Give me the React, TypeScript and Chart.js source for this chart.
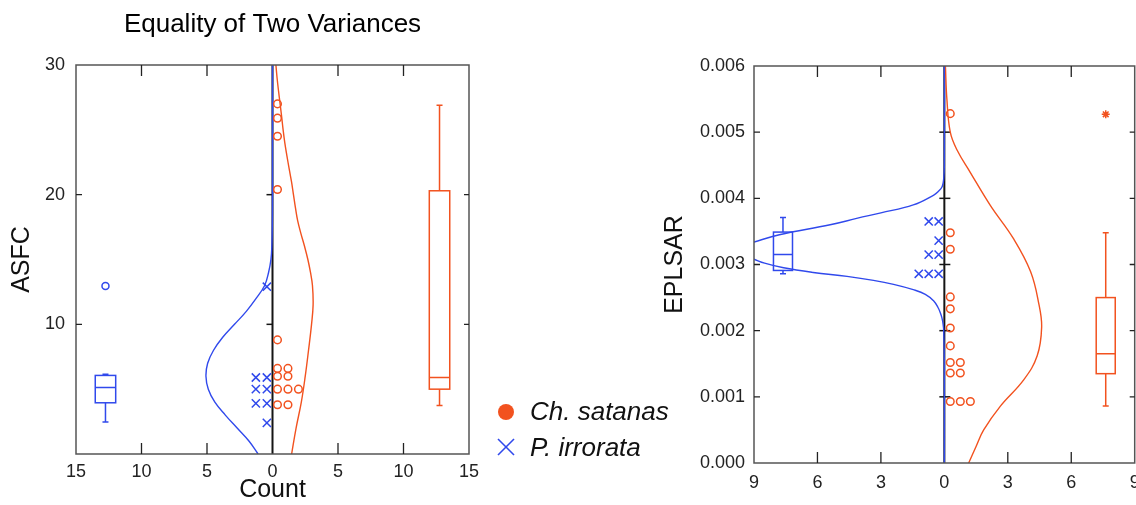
import React, { useEffect, useRef } from 'react';
import { Chart, registerables } from 'chart.js';

Chart.register(...registerables);

const ORANGE = '#f2521f';
const BLUE = '#3049ec';
const FONT = "'Liberation Sans', Arial, Helvetica, sans-serif";

// ---------- ASFC panel (left) ----------
const asfcSatanas = [27.0, 25.9, 24.5, 20.4, 8.8, 6.6, 6.6, 6.0, 6.0, 5.0, 5.0, 5.0, 3.8, 3.8];
const asfcIrrorata = [12.9, 5.9, 5.9, 5.0, 5.0, 3.9, 3.9, 2.4];
// [low whisker, q1, median, q3, high whisker]
const asfcSatanasBox = [3.75, 5.0, 5.9, 20.3, 26.9];
const asfcIrrorataBox = [2.46, 3.95, 5.13, 6.06, 6.16];
const asfcIrrorataOutliers = [12.96];
const asfcSatanasCurveY = [0, 2, 4, 6, 8, 10, 11.5, 13, 14, 15, 16, 17, 18, 19, 20, 21, 22, 23, 24, 25, 26, 27, 28, 29, 30];
const asfcSatanasCurveX = [1.46, 1.8, 2.2, 2.5, 2.75, 2.98, 3.1, 3.05, 2.9, 2.7, 2.45, 2.17, 1.92, 1.75, 1.6, 1.45, 1.27, 1.1, 0.94, 0.81, 0.7, 0.58, 0.46, 0.35, 0.26];
const asfcIrrorataCurveY = [0, 1, 2, 3, 4, 5, 6, 7, 8, 9, 10, 11, 12, 13, 14, 15, 16, 18, 20, 25, 30];
const asfcIrrorataCurveX = [-1.1, -1.8, -2.7, -3.6, -4.4, -4.9, -5.08, -4.95, -4.5, -3.8, -2.9, -2.0, -1.25, -0.6, -0.3, -0.12, -0.05, -0.01, 0, 0, 0];

// ---------- EPLSAR panel (right) ----------
const eplsarSatanas = [0.00528, 0.00348, 0.00323, 0.00251, 0.00233, 0.00204, 0.00177, 0.00152, 0.00152, 0.00136, 0.00136, 0.00093, 0.00093, 0.00093];
const eplsarIrrorata = [0.00365, 0.00365, 0.00336, 0.00315, 0.00315, 0.00286, 0.00286, 0.00286];
const eplsarSatanasBox = [0.00086, 0.00135, 0.00165, 0.0025, 0.00348];
const eplsarIrrorataBox = [0.00286, 0.00291, 0.00315, 0.00349, 0.00371];
const eplsarSatanasOutliers = [0.00527];
const eplsarSatanasCurveY = [0, 0.00025, 0.0005, 0.00086, 0.00126, 0.00162, 0.00205, 0.0024, 0.00289, 0.00339, 0.00389, 0.00439, 0.00473, 0.005, 0.0055, 0.006];
const eplsarSatanasCurveX = [1.15, 1.5, 1.86, 2.65, 3.76, 4.39, 4.6, 4.47, 4.08, 3.27, 2.18, 1.23, 0.6, 0.28, 0.12, 0.05];
const eplsarIrrorataCurveY = [0, 0.0015, 0.002, 0.0021, 0.0022, 0.00228, 0.00235, 0.00245, 0.00255, 0.00262, 0.0027, 0.00276, 0.00282, 0.00288, 0.00295, 0.00302, 0.00308, 0.00315, 0.00321, 0.00328, 0.00334, 0.00345, 0.0036, 0.0037, 0.00378, 0.0039, 0.00405, 0.0041, 0.00418, 0.0043, 0.0045, 0.006];
const eplsarIrrorataCurveX = [0, 0, -0.03, -0.06, -0.12, -0.2, -0.3, -0.5, -0.9, -1.47, -2.4, -3.35, -4.6, -6.2, -7.6, -8.5, -9.0, -9.6, -9.8, -9.6, -9.0, -7.8, -5.4, -4.1, -3.0, -1.47, -0.5, -0.3, -0.1, -0.03, 0, 0];

// box-plot column positions (in Count units)
const ASFC_BOX_POS = 12.75;
const EPLSAR_BOX_POS = 7.63;

function stackDots(values: number[], first: number, step: number) {
  const counts = new Map<number, number>();
  return values.map((v) => {
    const k = counts.get(v) || 0;
    counts.set(v, k + 1);
    return { x: first + k * step, y: v };
  });
}

function pairs(xs: number[], ys: number[]) {
  return xs.map((x, i) => ({ x, y: ys[i] }));
}

function curveDs(xs: number[], ys: number[], color: string) {
  return {
    data: pairs(xs, ys),
    showLine: true,
    borderColor: color,
    borderWidth: 1.4,
    pointRadius: 0,
    tension: 0.4,
    fill: false,
  };
}

type BoxSpec = { pos: number; stats: number[]; color: string; halfWidth: number };

function framePlugin(o: {
  xTick: number; yTickL: number; yTickR: number; midL: number; midR: number; boxes: BoxSpec[];
}) {
  const isEdge = (v: number, s: any) => {
    const eps = (s.max - s.min) * 1e-6;
    return Math.abs(v - s.min) < eps || Math.abs(v - s.max) < eps;
  };
  return {
    id: 'frame',
    beforeDatasetsDraw(chart: any) {
      const { ctx, chartArea: a } = chart;
      const xs = chart.scales.x, ys = chart.scales.y;
      const x0 = xs.getPixelForValue(0);
      ctx.save();
      ctx.strokeStyle = '#151515';
      ctx.lineWidth = 2;
      ctx.beginPath();
      ctx.moveTo(x0, a.top);
      ctx.lineTo(x0, a.bottom);
      ctx.stroke();
      ctx.lineWidth = 1.5;
      ys.ticks.forEach((t: any) => {
        if (isEdge(t.value, ys)) return;
        const p = ys.getPixelForValue(t.value);
        ctx.beginPath();
        ctx.moveTo(x0 - o.midL, p);
        ctx.lineTo(x0 + o.midR, p);
        ctx.stroke();
      });
      ctx.restore();
    },
    afterDatasetsDraw(chart: any) {
      const { ctx, chartArea: a } = chart;
      const xs = chart.scales.x, ys = chart.scales.y;
      ctx.save();
      o.boxes.forEach((b) => {
        const [lo, q1, med, q3, hi] = b.stats;
        const cx = xs.getPixelForValue(b.pos);
        const l = xs.getPixelForValue(b.pos - b.halfWidth);
        const r = xs.getPixelForValue(b.pos + b.halfWidth);
        const cap = 3;
        ctx.strokeStyle = b.color;
        ctx.lineWidth = 1.5;
        ctx.strokeRect(l, ys.getPixelForValue(q3), r - l, ys.getPixelForValue(q1) - ys.getPixelForValue(q3));
        ctx.beginPath();
        ctx.moveTo(l, ys.getPixelForValue(med));
        ctx.lineTo(r, ys.getPixelForValue(med));
        ctx.moveTo(cx, ys.getPixelForValue(q1));
        ctx.lineTo(cx, ys.getPixelForValue(lo));
        ctx.moveTo(cx, ys.getPixelForValue(q3));
        ctx.lineTo(cx, ys.getPixelForValue(hi));
        ctx.moveTo(cx - cap, ys.getPixelForValue(lo));
        ctx.lineTo(cx + cap, ys.getPixelForValue(lo));
        ctx.moveTo(cx - cap, ys.getPixelForValue(hi));
        ctx.lineTo(cx + cap, ys.getPixelForValue(hi));
        ctx.stroke();
      });
      ctx.strokeStyle = '#555';
      ctx.lineWidth = 1.5;
      ctx.strokeRect(a.left, a.top, a.right - a.left, a.bottom - a.top);
      ctx.lineWidth = 1.3;
      ctx.strokeStyle = '#222';
      xs.ticks.forEach((t: any) => {
        if (isEdge(t.value, xs) || Math.abs(t.value) < 1e-9) return;
        const p = xs.getPixelForValue(t.value);
        ctx.beginPath();
        ctx.moveTo(p, a.bottom);
        ctx.lineTo(p, a.bottom - o.xTick);
        ctx.moveTo(p, a.top);
        ctx.lineTo(p, a.top + o.xTick);
        ctx.stroke();
      });
      ys.ticks.forEach((t: any) => {
        if (isEdge(t.value, ys)) return;
        const p = ys.getPixelForValue(t.value);
        ctx.beginPath();
        ctx.moveTo(a.left, p);
        ctx.lineTo(a.left + o.yTickL, p);
        ctx.moveTo(a.right, p);
        ctx.lineTo(a.right - o.yTickR, p);
        ctx.stroke();
      });
      ctx.restore();
    },
  };
}

const tickFont = { size: 18, family: FONT };
const titleFont = { size: 25, family: FONT };

function leftConfig(): any {
  return {
    type: 'scatter',
    data: {
      datasets: [
        { data: stackDots(asfcIrrorata, -0.43, -0.84), pointStyle: 'crossRot', pointRadius: 5.8, borderColor: BLUE, borderWidth: 1.5, backgroundColor: BLUE },
        { data: stackDots(asfcSatanas, 0.38, 0.8), pointStyle: 'circle', pointRadius: 3.8, borderColor: ORANGE, borderWidth: 1.5, backgroundColor: 'rgba(0,0,0,0)' },
        { data: asfcIrrorataOutliers.map((y) => ({ x: -ASFC_BOX_POS, y })), pointStyle: 'circle', pointRadius: 3.5, borderColor: BLUE, borderWidth: 1.5, backgroundColor: 'rgba(0,0,0,0)' },
        curveDs(asfcIrrorataCurveX, asfcIrrorataCurveY, BLUE),
        curveDs(asfcSatanasCurveX, asfcSatanasCurveY, ORANGE),
      ],
    },
    options: {
      responsive: false,
      animation: false,
      events: [],
      layout: { padding: { top: 0, right: 11, left: 0, bottom: 0 } },
      plugins: {
        legend: { display: false },
        tooltip: { enabled: false },
        title: {
          display: true,
          text: 'Equality of Two Variances',
          fullSize: false,
          color: '#000',
          font: { size: 26, family: FONT, weight: 'normal' },
          padding: { top: 9, bottom: 24.8 },
        },
      },
      scales: {
        x: {
          type: 'linear', min: -15, max: 15,
          grid: { display: false, drawTicks: false }, border: { display: false },
          ticks: { stepSize: 5, autoSkip: false, maxRotation: 0, padding: 7, color: '#222', font: tickFont, callback: (v: number) => String(Math.abs(v)) },
          title: { display: true, text: 'Count', color: '#111', font: titleFont, padding: { top: 0, bottom: 0 } },
          afterFit: (s: any) => { s.height = 51; s.paddingLeft = 0; s.paddingRight = 0; },
        },
        y: {
          type: 'linear', min: 0, max: 30,
          grid: { display: false, drawTicks: false }, border: { display: false },
          ticks: { stepSize: 10, padding: 11, color: '#222', font: tickFont, callback: (v: number) => (v === 0 ? '' : String(v)) },
          title: { display: true, text: 'ASFC', color: '#111', font: titleFont, padding: { top: 7, bottom: 0 } },
          afterFit: (s: any) => { s.width = 76; s.paddingTop = 0; s.paddingBottom = 0; },
        },
      },
    },
    plugins: [framePlugin({
      xTick: 11, yTickL: 6, yTickR: 5, midL: 6, midR: 0,
      boxes: [
        { pos: -ASFC_BOX_POS, stats: asfcIrrorataBox, color: BLUE, halfWidth: 0.78 },
        { pos: ASFC_BOX_POS, stats: asfcSatanasBox, color: ORANGE, halfWidth: 0.78 },
      ],
    })],
  };
}

function rightConfig(): any {
  return {
    type: 'scatter',
    data: {
      datasets: [
        { data: stackDots(eplsarIrrorata, -0.27, -0.47), pointStyle: 'crossRot', pointRadius: 5.8, borderColor: BLUE, borderWidth: 1.5, backgroundColor: BLUE },
        { data: stackDots(eplsarSatanas, 0.28, 0.475), pointStyle: 'circle', pointRadius: 3.8, borderColor: ORANGE, borderWidth: 1.5, backgroundColor: 'rgba(0,0,0,0)' },
        { data: eplsarSatanasOutliers.map((y) => ({ x: EPLSAR_BOX_POS, y })), pointStyle: 'star', pointRadius: 4, borderColor: ORANGE, borderWidth: 1.5, backgroundColor: ORANGE },
        curveDs(eplsarIrrorataCurveX, eplsarIrrorataCurveY, BLUE),
        curveDs(eplsarSatanasCurveX, eplsarSatanasCurveY, ORANGE),
      ],
    },
    options: {
      responsive: false,
      animation: false,
      events: [],
      layout: { padding: { top: 66, right: 2, left: 0, bottom: 0 } },
      plugins: { legend: { display: false }, tooltip: { enabled: false } },
      scales: {
        x: {
          type: 'linear', min: -9, max: 9,
          grid: { display: false, drawTicks: false }, border: { display: false },
          ticks: { stepSize: 3, autoSkip: false, maxRotation: 0, padding: 9, color: '#222', font: tickFont, callback: (v: number) => String(Math.abs(v)) },
          afterFit: (s: any) => { s.height = 42; s.paddingLeft = 0; s.paddingRight = 0; },
        },
        y: {
          type: 'linear', min: 0, max: 0.006,
          grid: { display: false, drawTicks: false }, border: { display: false },
          ticks: { stepSize: 0.001, padding: 9, color: '#222', font: tickFont, callback: (v: number) => Number(v).toFixed(3) },
          title: { display: true, text: 'EPLSAR', color: '#111', font: titleFont, padding: { top: 170, bottom: 0 } },
          afterFit: (s: any) => { s.width = 264; s.paddingTop = 0; s.paddingBottom = 0; },
        },
      },
    },
    plugins: [framePlugin({
      xTick: 11, yTickL: 6, yTickR: 5, midL: 5, midR: 6,
      boxes: [
        { pos: -EPLSAR_BOX_POS, stats: eplsarIrrorataBox, color: BLUE, halfWidth: 0.45 },
        { pos: EPLSAR_BOX_POS, stats: eplsarSatanasBox, color: ORANGE, halfWidth: 0.45 },
      ],
    })],
  };
}

function ChartCanvas({ make, left, width }: { make: () => any; left: number; width: number }) {
  const ref = useRef<HTMLCanvasElement | null>(null);
  useEffect(() => {
    if (!ref.current) return;
    const chart = new Chart(ref.current, make());
    return () => chart.destroy();
  }, []);
  return (
    <canvas
      ref={ref}
      width={width}
      height={505}
      style={{ position: 'absolute', left, top: 0, width, height: 505 }}
    />
  );
}

export default function App() {
  const legendText: React.CSSProperties = {
    position: 'absolute', left: 530, fontFamily: FONT, fontStyle: 'italic', fontSize: 26,
    lineHeight: '30px', color: '#111', whiteSpace: 'nowrap',
  };
  return (
    <div style={{ position: 'fixed', left: 0, top: 0, width: 1136, height: 505, background: '#fff', overflow: 'hidden' }}>
      <ChartCanvas make={leftConfig} left={0} width={480} />
      <ChartCanvas make={rightConfig} left={490} width={652} />
      <div style={{ position: 'absolute', left: 498, top: 404, width: 16, height: 16, borderRadius: '50%', background: ORANGE }} />
      <div style={{ ...legendText, top: 396 }}>Ch. satanas</div>
      <svg style={{ position: 'absolute', left: 497, top: 438 }} width={18} height={18}>
        <line x1={1} y1={1} x2={17} y2={17} stroke={BLUE} strokeWidth={1.6} />
        <line x1={17} y1={1} x2={1} y2={17} stroke={BLUE} strokeWidth={1.6} />
      </svg>
      <div style={{ ...legendText, top: 432 }}>P. irrorata</div>
    </div>
  );
}
